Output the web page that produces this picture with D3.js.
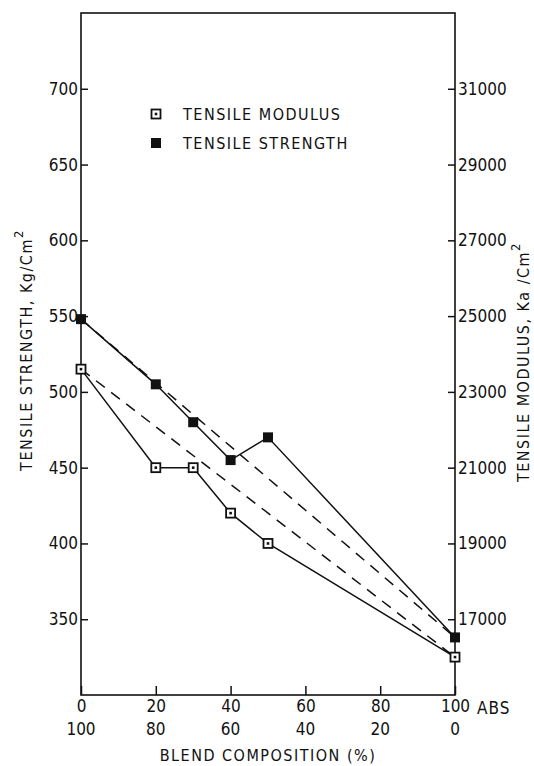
<!DOCTYPE html>
<html>
<head>
<meta charset="utf-8">
<script src="https://cdn.jsdelivr.net/npm/d3@7"></script>
<style>
  body { margin: 0; background: #fff; }
  svg { display: block; }
  text { font-family: "DejaVu Sans Condensed", "DejaVu Sans", sans-serif; fill: #111; }
</style>
</head>
<body>
<div id="chart"></div>
<script>
// blend composition, % of ABS (second row is the other component)
var blend = [0, 20, 30, 40, 50, 100];
// tensile strength, Kg/cm2 (left axis)
var strength = [548, 505, 480, 455, 470, 338];
// tensile modulus, Kg/cm2 (right axis)
var modulus = [23600, 21000, 21000, 19800, 19000, 16000];

var strengthTicks = [350, 400, 450, 500, 550, 600, 650, 700];
var modulusTicks = [17000, 19000, 21000, 23000, 25000, 27000, 29000, 31000];
var blendTicks = [0, 20, 40, 60, 80, 100];

var svgW = 534, svgH = 766;
var plotL = 81, plotR = 455, plotT = 13, plotB = 695;

var svg = d3.select('#chart').append('svg')
    .attr('width', svgW)
    .attr('height', svgH);

svg.append('rect').attr('width', svgW).attr('height', svgH).attr('fill', '#fff');

var x = d3.scaleLinear().domain([0, 100]).range([plotL, plotR]);
var yL = d3.scaleLinear().domain([300, 750]).range([plotB, plotT]);
var yR = d3.scaleLinear().domain([15000, 33000]).range([plotB, plotT]);

var ink = '#111';
var fontFam = '"DejaVu Sans Condensed", "DejaVu Sans", sans-serif';

// frame
svg.append('rect')
    .attr('x', plotL).attr('y', plotT)
    .attr('width', plotR - plotL).attr('height', plotB - plotT)
    .attr('fill', 'none').attr('stroke', ink).attr('stroke-width', 1.6);

var styleAxis = function(g) {
  g.select('.domain').remove();
  g.selectAll('.tick line').attr('stroke', ink).attr('stroke-width', 1.5);
  g.selectAll('.tick text').attr('font-size', 17).attr('fill', ink)
      .attr('font-family', fontFam);
};

svg.append('g')
    .attr('transform', 'translate(' + plotL + ',0)')
    .call(d3.axisLeft(yL).tickValues(strengthTicks).tickSizeInner(-7).tickSizeOuter(0).tickPadding(3))
    .call(styleAxis);

svg.append('g')
    .attr('transform', 'translate(' + plotR + ',0)')
    .call(d3.axisRight(yR).tickValues(modulusTicks).tickFormat(d3.format('d'))
        .tickSizeInner(-7).tickSizeOuter(0).tickPadding(3))
    .call(styleAxis);

svg.append('g')
    .attr('transform', 'translate(0,' + plotB + ')')
    .call(d3.axisBottom(x).tickValues(blendTicks).tickSizeInner(-9).tickSizeOuter(0).tickPadding(5))
    .call(styleAxis);

// second row of composition labels
svg.append('g').selectAll('text')
    .data(blendTicks)
  .enter().append('text')
    .attr('x', function(d) { return x(d); })
    .attr('y', plotB + 40)
    .attr('text-anchor', 'middle')
    .attr('font-size', 17)
    .text(function(d) { return 100 - d; });

svg.append('text')
    .attr('x', x(100) + 22)
    .attr('y', plotB + 19)
    .attr('font-size', 17)
    .attr('letter-spacing', 1)
    .text('ABS');

svg.append('text')
    .attr('x', (plotL + plotR) / 2)
    .attr('y', plotB + 66)
    .attr('text-anchor', 'middle')
    .attr('font-size', 16)
    .attr('letter-spacing', 1.5)
    .text('BLEND COMPOSITION (%)');

// axis titles
var leftTitle = svg.append('text')
    .attr('transform', 'translate(32,350) rotate(-90)')
    .attr('text-anchor', 'middle')
    .attr('font-size', 16)
    .attr('letter-spacing', 1.5);
leftTitle.append('tspan').text('TENSILE STRENGTH, Kg/Cm');
leftTitle.append('tspan').attr('dy', -9).attr('font-size', 13).text('2');

var rightTitle = svg.append('text')
    .attr('transform', 'translate(529,362) rotate(-90)')
    .attr('text-anchor', 'middle')
    .attr('font-size', 16)
    .attr('letter-spacing', 1.5);
rightTitle.append('tspan').text('TENSILE MODULUS, Ka /Cm');
rightTitle.append('tspan').attr('dy', -9).attr('font-size', 13).text('2');

// series
var strengthPts = blend.map(function(b, i) { return [b, strength[i]]; });
var modulusPts = blend.map(function(b, i) { return [b, modulus[i]]; });

var lineL = d3.line().x(function(d) { return x(d[0]); }).y(function(d) { return yL(d[1]); });
var lineR = d3.line().x(function(d) { return x(d[0]); }).y(function(d) { return yR(d[1]); });

var ends = function(pts) { return [pts[0], pts[pts.length - 1]]; };

// additivity (dashed) lines
svg.append('path').attr('d', lineL(ends(strengthPts)))
    .attr('fill', 'none').attr('stroke', ink).attr('stroke-width', 1.5).attr('stroke-dasharray', '11,8');
svg.append('path').attr('d', lineR(ends(modulusPts)))
    .attr('fill', 'none').attr('stroke', ink).attr('stroke-width', 1.5).attr('stroke-dasharray', '11,8');

// measured (solid) lines
svg.append('path').attr('d', lineL(strengthPts))
    .attr('fill', 'none').attr('stroke', ink).attr('stroke-width', 1.5);
svg.append('path').attr('d', lineR(modulusPts))
    .attr('fill', 'none').attr('stroke', ink).attr('stroke-width', 1.5);

var openSquare = function(sel, size) {
  sel.append('rect')
      .attr('x', -size / 2).attr('y', -size / 2)
      .attr('width', size).attr('height', size)
      .attr('fill', '#fff').attr('stroke', ink).attr('stroke-width', 1.8);
  sel.append('rect')
      .attr('x', -1.3).attr('y', -1.3).attr('width', 2.6).attr('height', 2.6)
      .attr('fill', ink);
};
var filledSquare = function(sel, size) {
  sel.append('rect')
      .attr('x', -size / 2).attr('y', -size / 2)
      .attr('width', size).attr('height', size)
      .attr('fill', ink);
};

svg.append('g').selectAll('g')
    .data(modulusPts)
  .enter().append('g')
    .attr('transform', function(d) { return 'translate(' + x(d[0]) + ',' + yR(d[1]) + ')'; })
    .call(openSquare, 9);

svg.append('g').selectAll('g')
    .data(strengthPts)
  .enter().append('g')
    .attr('transform', function(d) { return 'translate(' + x(d[0]) + ',' + yL(d[1]) + ')'; })
    .call(filledSquare, 10);

// legend
var legend = [
  {label: 'TENSILE MODULUS', y: 114, open: true},
  {label: 'TENSILE STRENGTH', y: 143, open: false}
];
var lg = svg.append('g').selectAll('g')
    .data(legend)
  .enter().append('g')
    .attr('transform', function(d) { return 'translate(156,' + d.y + ')'; });
lg.filter(function(d) { return d.open; }).call(openSquare, 9);
lg.filter(function(d) { return !d.open; }).call(filledSquare, 10);
lg.append('text')
    .attr('x', 27)
    .attr('y', 6)
    .attr('font-size', 16)
    .attr('letter-spacing', 1.5)
    .text(function(d) { return d.label; });
</script>
</body>
</html>
